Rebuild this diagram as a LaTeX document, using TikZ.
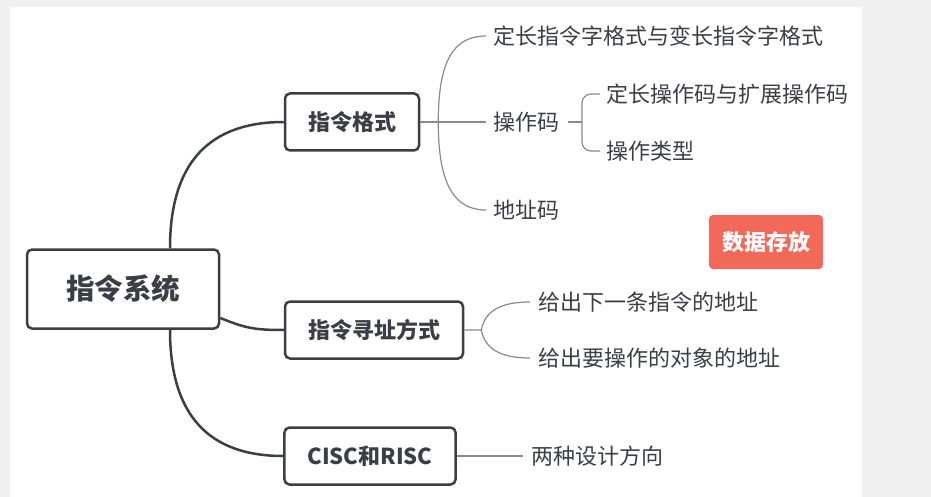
\documentclass[tikz,border=0pt]{standalone}
\usepackage{fontspec}
\setmainfont{Noto Sans CJK SC}
\usetikzlibrary{positioning}
\definecolor{mapInk}{HTML}{3B3F45}
\definecolor{mapTwig}{HTML}{8A8A8A}
\definecolor{mapRojo}{HTML}{F2695A}
\definecolor{mapFondo}{HTML}{F0F0F0}

\begin{document}
\begin{tikzpicture}[x=1pt, y=-1pt,
      box/.style={rounded corners=5pt, draw=mapInk, line width=2.5pt, fill=white,
                  minimum height=57pt, inner xsep=23pt, text=mapInk,
                  font=\fontsize{22}{25}\selectfont\bfseries},
      leaf/.style={anchor=west, inner sep=0pt, text=mapInk,
                   font=\fontsize{22}{25}\selectfont},
      trunk/.style={draw=mapInk, line width=2.5pt},
      twig/.style={draw=mapTwig, line width=1.2pt}]
    % fondo
    \fill[mapFondo] (0,0) rectangle (931,497);
    \fill[white] (10,7) rectangle (862,497);
    \useasboundingbox (0,0) rectangle (931,497);

    \node[box, minimum width=192pt, minimum height=79pt,
          font=\fontsize{28.5}{31}\selectfont\bfseries] (sys) at (123,289) {指令系统};
    \node[box] (fmt)  at (352,122) {指令格式};
    \node[box] (mode) at (374,330) {指令寻址方式};
    \node[box] (cisc) at (370,456) {CISC和RISC};

    \node[leaf] (fixfmt)   at (493,36)  {定长指令字格式与变长指令字格式};
    \node[leaf] (opc)      at (493,122) {操作码};
    \node[leaf] (fixopc)   at (606,94)  {定长操作码与扩展操作码};
    \node[leaf] (optype)   at (606,151) {操作类型};
    \node[leaf] (adrc)     at (493,210) {地址码};
    \node[leaf] (nextaddr) at (538,302) {给出下一条指令的地址};
    \node[leaf] (opaddr)   at (538,358) {给出要操作的对象的地址};
    \node[leaf] (dir)      at (531,456) {两种设计方向};

    \node[rounded corners=4pt, fill=mapRojo, minimum width=114pt, minimum height=54pt,
          text=white, font=\fontsize{22}{25}\selectfont\bfseries] (store) at (766,242) {数据存放};

    % ramas principales
    \draw[trunk] ([xshift=47pt]sys.north) .. controls +(0,-85) and +(-75,0) .. (fmt.west);
    \draw[trunk] ([yshift=-29pt]sys.east) .. controls +(25,10) and +(-30,0) .. (mode.west);
    \draw[trunk] ([xshift=47pt]sys.south) .. controls +(0,85) and +(-75,0) .. (cisc.west);

    % subramas
    \draw[twig] (fmt.east) -- ([xshift=-7pt]opc.west);
    \draw[twig] ([xshift=18pt]fmt.east) .. controls +(0,-62) and +(-32,0) .. ([xshift=-7pt]fixfmt.west);
    \draw[twig] ([xshift=18pt]fmt.east) .. controls +(0,62) and +(-32,0) .. ([xshift=-7pt]adrc.west);
    \draw[twig] ([xshift=9pt]opc.east) -- ([xshift=-24pt]fixopc.west |- opc.west);
    \draw[twig, rounded corners=9pt] ([xshift=-24pt]fixopc.west |- opc.west) |- ([xshift=-6pt]fixopc.west);
    \draw[twig, rounded corners=9pt] ([xshift=-24pt]fixopc.west |- opc.west) |- ([xshift=-6pt]optype.west);
    \draw[twig] (mode.east) -- ++(17,0) .. controls +(4,-20) and +(-28,0) .. ([xshift=-8pt]nextaddr.west);
    \draw[twig] ([xshift=17pt]mode.east) .. controls +(4,20) and +(-28,0) .. ([xshift=-8pt]opaddr.west);
    \draw[twig] (cisc.east) -- ([xshift=-8pt]dir.west);
  \end{tikzpicture}
\end{document}
